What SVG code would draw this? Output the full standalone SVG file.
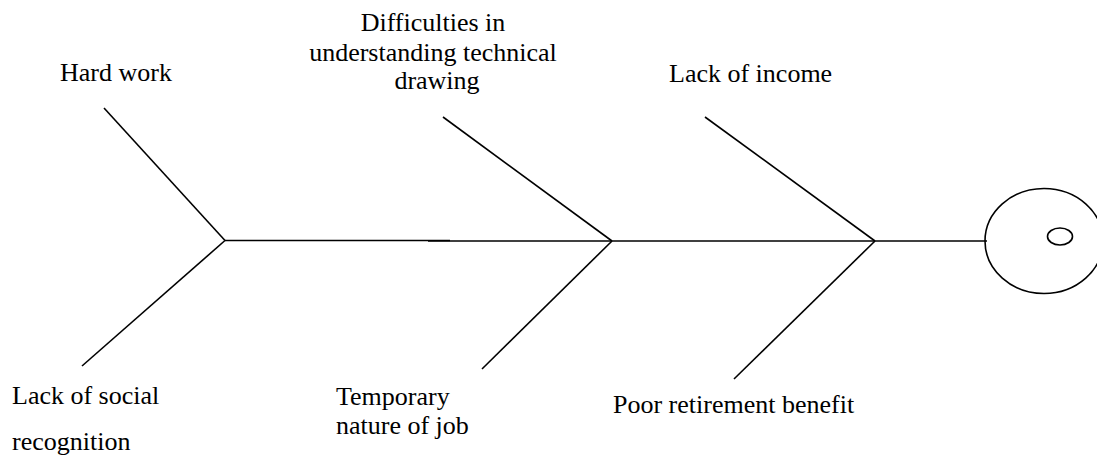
<svg xmlns="http://www.w3.org/2000/svg" width="1097" height="457" viewBox="0 0 1097 457">
<style>
.ln{stroke:#000;stroke-width:1.6;fill:none;stroke-linecap:butt}
.t{font-size:26px;fill:#000}
</style>
<rect width="1097" height="457" fill="#fff"/>
<g id="connectors">
<line class="ln" x1="225" y1="240.5" x2="450" y2="240.5" stroke-width="2"/>
<line class="ln" x1="428" y1="241" x2="987" y2="241"/>
<line class="ln" x1="104" y1="108" x2="225" y2="240.5"/>
<line class="ln" x1="82" y1="366" x2="225" y2="240.5"/>
<line class="ln" x1="443" y1="117" x2="612" y2="241"/>
<line class="ln" x1="482" y1="369" x2="612" y2="241"/>
<line class="ln" x1="705" y1="117" x2="875" y2="241"/>
<line class="ln" x1="734" y1="379" x2="875" y2="241"/>
</g>
<g id="head">
<ellipse class="ln" cx="1044" cy="241" rx="59" ry="52.5"/>
<ellipse class="ln" cx="1060" cy="236.5" rx="12.5" ry="8.5"/>
</g>
<g font-family="'Liberation Serif', 'DejaVu Serif', serif">
<g id="hard-work"><text class="t" x="60" y="81">Hard work</text></g>
<g id="lack-social"><text class="t" x="12" y="404">Lack of social</text><text class="t" x="12" y="450">recognition</text></g>
<g id="difficulties">
<text class="t" x="433" y="31" text-anchor="middle">Difficulties in</text>
<text class="t" x="433" y="61" text-anchor="middle">understanding technical</text>
<text class="t" x="437" y="89" text-anchor="middle">drawing</text>
</g>
<g id="temporary"><text class="t" x="336" y="405">Temporary</text><text class="t" x="336" y="434">nature of job</text></g>
<g id="lack-income"><text class="t" x="669" y="82">Lack of income</text></g>
<g id="poor-retirement"><text class="t" x="613" y="413">Poor retirement benefit</text></g>
</g>
</svg>
